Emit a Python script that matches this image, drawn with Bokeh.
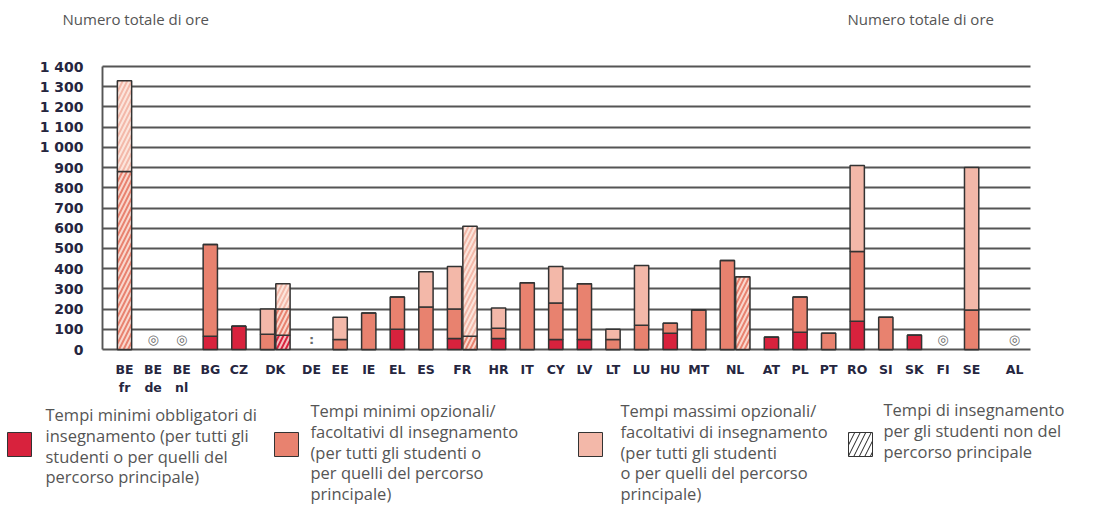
from bokeh.plotting import figure
from bokeh.models import Range1d, FixedTicker, ColumnDataSource
from bokeh.embed import file_html
from bokeh.resources import INLINE
from bokeh.core.properties import value, field

NAN = float("nan")

# ---------------- data ----------------
bar_country = ["BE fr", "BE de", "BE nl", "BG", "CZ", "DK", "DK", "DE", "EE", "IE",
               "EL", "ES", "FR", "FR", "HR", "IT", "CY", "LV", "LT", "LU",
               "HU", "MT", "NL", "NL", "AT", "PL", "PT", "RO", "SI", "SK",
               "FI", "SE", "AL"]
# segment heights (hours)
obbl_min = [0, NAN, NAN, 65, 115, 0, 70, NAN, 0, 0,
            100, 0, 55, 0, 55, 0, 50, 50, 0, 0,
            80, 0, 0, 0, 60, 85, 0, 140, 0, 70,
            NAN, 0, NAN]
opz_min = [880, NAN, NAN, 455, 0, 75, 130, NAN, 50, 180,
           160, 210, 145, 65, 50, 330, 180, 275, 50, 120,
           50, 195, 440, 360, 0, 175, 80, 345, 160, 0,
           NAN, 195, NAN]
opz_max = [450, NAN, NAN, 0, 0, 125, 125, NAN, 110, 0,
           0, 175, 210, 545, 100, 0, 180, 0, 50, 295,
           0, 0, 0, 0, 0, 0, 0, 425, 0, 0,
           NAN, 705, NAN]
non_principale = [1, 0, 0, 0, 0, 0, 1, 0, 0, 0,
                  0, 0, 0, 1, 0, 0, 0, 0, 0, 0,
                  0, 0, 0, 1, 0, 0, 0, 0, 0, 0,
                  0, 0, 0]
missing_symbol = {"BE de": "◎", "BE nl": "◎", "DE": ":", "FI": "◎", "AL": "◎"}

y_ticks = [0, 100, 200, 300, 400, 500, 600, 700, 800, 900, 1000, 1100, 1200, 1300, 1400]
y_tick_labels = ["0", "100", "200", "300", "400", "500", "600", "700", "800", "900",
                 "1 000", "1 100", "1 200", "1 300", "1 400"]

series_names = ["obbl_min", "opz_min", "opz_max"]
series_colors = ["#d8223d", "#e8826f", "#f3b8a9"]

axis_title = "Numero totale di ore"
legend_texts = [
    ["Tempi minimi obbligatori di", "insegnamento (per tutti gli", "studenti o per quelli del", "percorso principale)"],
    ["Tempi minimi opzionali/", "facoltativi dI insegnamento", "(per tutti gli studenti o", "per quelli del percorso", "principale)"],
    ["Tempi massimi opzionali/", "facoltativi di insegnamento", "(per tutti gli studenti", "o per quelli del percorso", "principale)"],
    ["Tempi di insegnamento", "per gli studenti non del", "percorso principale"],
]

# ---------------- geometry (canvas pixels) ----------------
W, H = 1100, 516
X0_PX = 124.0          # centre of first bar slot
SLOT_PX = 28.6         # distance between slots
Y0_PX = 349.0          # baseline (0 hours)
PX_PER_HOUR = 283.0 / 1400.0
FRAME_L_PX, FRAME_R_PX = 102.0, 1030.0

PAIR_STEP = 0.54
EXTRA_GAP = {"AL": 0.5}
BAR_W = 0.5

def slot_of_px(px):
    return (px - X0_PX) / SLOT_PX

xs = []
pos = 0.0
for i, c in enumerate(bar_country):
    if i > 0:
        pos += PAIR_STEP if c == bar_country[i - 1] else 1.0 + EXTRA_GAP.get(c, 0.0)
    xs.append(pos)

countries = []
for c in bar_country:
    if c not in countries:
        countries.append(c)
centers = []
for c in countries:
    cx = [x for x, cc in zip(xs, bar_country) if cc == c]
    centers.append(sum(cx) / len(cx))

TXT = "#26263f"
GRID = "#555555"
GREY = "#555555"

# ---------------- figure ----------------
p = figure(width=W, height=H, min_border=0,
           x_range=Range1d(slot_of_px(0), slot_of_px(W)),
           y_range=Range1d((Y0_PX - H) / PX_PER_HOUR, Y0_PX / PX_PER_HOUR),
           output_backend="svg", toolbar_location=None, tools="")
p.extra_x_ranges = {"px": Range1d(0, W)}
p.extra_y_ranges = {"px": Range1d(H, 0)}
p.outline_line_color = None
p.xgrid.visible = False
yg = p.ygrid[0]
yg.ticker = FixedTicker(ticks=y_ticks)
yg.grid_line_color = GRID
yg.grid_line_width = 1.9
yg.bounds = (0, 1400)
if hasattr(yg, "cross_bounds"):
    yg.cross_bounds = (slot_of_px(FRAME_L_PX), slot_of_px(FRAME_R_PX))

src = ColumnDataSource(dict(
    x=xs, obbl_min=obbl_min, opz_min=opz_min, opz_max=opz_max,
    pat=["/" if h else " " for h in non_principale],
))
p.vbar_stack(series_names, x="x", width=BAR_W, color=series_colors, source=src,
             line_color="#333333", line_width=1.5,
             hatch_pattern=field("pat"), hatch_color="#fff4ee", hatch_alpha=0.75,
             hatch_scale=9, hatch_weight=2.0)

sym_x = [cx for c, cx in zip(countries, centers) if c in missing_symbol]
sym_t = [missing_symbol[c] for c in countries if c in missing_symbol]
p.text(x=sym_x, y=[0] * len(sym_x), text=sym_t, y_offset=-10,
       text_font=value("DejaVu Sans"), text_font_size="13px", text_font_style="bold",
       text_color="#6a6a6a", text_align="center", text_baseline="middle")

yax = p.yaxis[0]
yax.fixed_location = slot_of_px(FRAME_L_PX)
yax.ticker = FixedTicker(ticks=y_ticks)
yax.major_label_overrides = {t: l for t, l in zip(y_ticks, y_tick_labels)}
yax.bounds = (0, 1400)
yax.axis_line_color = GRID
yax.axis_line_width = 1.9
yax.major_tick_line_color = None
yax.minor_tick_line_color = None
yax.major_label_standoff = 13
yax.major_label_text_font = "DejaVu Sans"
yax.major_label_text_font_style = "bold"
yax.major_label_text_font_size = "14px"
yax.major_label_text_color = TXT

xax = p.xaxis[0]
xax.fixed_location = 0
xax.ticker = FixedTicker(ticks=centers)
xax.major_label_overrides = {cx: c.replace(" ", "\n") for c, cx in zip(countries, centers)}
xax.axis_line_color = None
xax.major_tick_line_color = None
xax.minor_tick_line_color = None
xax.major_label_standoff = 6
xax.major_label_text_font = "DejaVu Sans"
xax.major_label_text_font_style = "bold"
xax.major_label_text_font_size = "12.5px"
xax.major_label_text_color = TXT

# ---------------- header texts ----------------
p.text(x=[62, 847], y=[18, 18], text=[axis_title, axis_title],
       x_range_name="px", y_range_name="px",
       text_font=value("Open Sans"), text_font_size="15px", text_color=GREY,
       text_baseline="middle", text_align="left")

# ---------------- legend ----------------
sq_x = [7, 274, 578, 848]
SQ_TOP, SQ = 432, 24
sq_colors = series_colors + ["white"]
txt_x = [45, 310, 620, 883]
txt_y0 = [414, 410, 410, 409]
LINE_H = 20.8
p.quad(left=sq_x[:3], right=[x + SQ for x in sq_x[:3]], top=[SQ_TOP] * 3, bottom=[SQ_TOP + SQ] * 3,
       x_range_name="px", y_range_name="px",
       fill_color=sq_colors[:3], line_color="#333333", line_width=1)
p.quad(left=[sq_x[3]], right=[sq_x[3] + SQ], top=[SQ_TOP], bottom=[SQ_TOP + SQ],
       x_range_name="px", y_range_name="px",
       fill_color="white", line_color="#333333", line_width=1,
       hatch_pattern="/", hatch_color="#222222", hatch_scale=11, hatch_weight=1)
lx, ly, lt = [], [], []
for i in range(4):
    for k, line in enumerate(legend_texts[i]):
        lx.append(txt_x[i])
        ly.append(txt_y0[i] + k * LINE_H)
        lt.append(line)
p.text(x=lx, y=ly, text=lt, x_range_name="px", y_range_name="px",
       text_font=value("Open Sans"), text_font_size="16.5px", text_color=GREY,
       text_baseline="middle", text_align="left")

open("out.html", "w").write(file_html(p, INLINE))
